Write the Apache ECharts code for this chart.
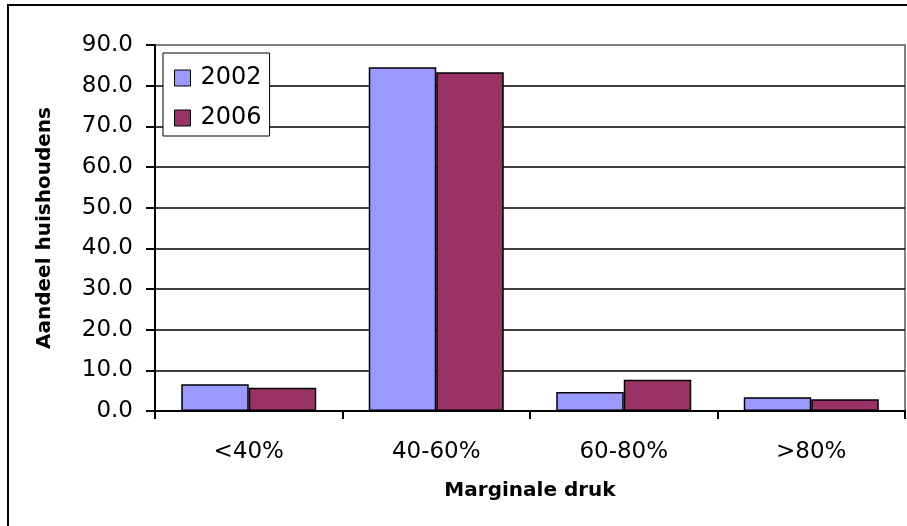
<!DOCTYPE html>
<html>
<head>
<meta charset="utf-8">
<script src="https://cdn.jsdelivr.net/npm/echarts@6/dist/echarts.min.js"></script>
<style>
  html, body { margin: 0; padding: 0; background: #fff; }
  #chart { width: 907px; height: 526px; }
</style>
</head>
<body>
<div id="chart"></div>
<script>
var categories = ['<40%', '40-60%', '60-80%', '>80%'];
var values2002 = [6.6, 84.5, 4.7, 3.4];
var values2006 = [5.7, 83.3, 7.7, 2.9];

var myChart = echarts.init(document.getElementById('chart'));
var font = 'DejaVu Sans, Verdana, sans-serif';
// gridline colours: the last one (90.0) sits on the grey plot border
var splitColors = ['#000', '#000', '#000', '#000', '#000', '#000', '#000', '#000', '#000', '#808080'];
var option = {
    animation: false,
    backgroundColor: '#fff',
    graphic: [{
        type: 'rect',
        shape: { x: 8, y: 5, width: 1000, height: 1000 },
        style: { fill: 'none', stroke: '#000', lineWidth: 2 },
        silent: true
    }],
    legend: {
        orient: 'vertical',
        left: 163,
        top: 53,
        padding: [13, 8, 6, 11],
        itemGap: 16,
        itemWidth: 16,
        itemHeight: 16,
        backgroundColor: '#fff',
        borderColor: '#000',
        borderWidth: 1,
        borderRadius: 0,
        textStyle: { fontFamily: font, fontSize: 24, color: '#000', padding: [0, 0, 0, 5] },
        data: [
            { name: '2002', icon: 'rect', itemStyle: { borderColor: '#000', borderWidth: 1 } },
            { name: '2006', icon: 'rect', itemStyle: { borderColor: '#000', borderWidth: 1 } }
        ]
    },
    grid: {
        left: 155,
        right: 2,
        top: 45,
        bottom: 115,
        show: true,
        borderColor: '#808080',
        borderWidth: 2,
        backgroundColor: '#fff'
    },
    xAxis: {
        type: 'category',
        data: categories,
        name: 'Marginale druk',
        nameLocation: 'middle',
        nameGap: 70,
        nameTextStyle: { fontFamily: font, fontSize: 20, fontWeight: 'bold', color: '#000' },
        axisLine: { lineStyle: { color: '#000', width: 2 } },
        axisTick: { show: true, length: 8, alignWithLabel: false, lineStyle: { color: '#000', width: 2 } },
        axisLabel: { fontFamily: font, fontSize: 23, color: '#000', margin: 30 }
    },
    yAxis: {
        type: 'value',
        min: 0,
        max: 90,
        interval: 10,
        name: 'Aandeel huishoudens',
        nameLocation: 'middle',
        nameGap: 100,
        nameTextStyle: { fontFamily: font, fontSize: 20, fontWeight: 'bold', color: '#000' },
        axisLine: { show: true, lineStyle: { color: '#000', width: 2 } },
        axisTick: { show: true, length: 9, lineStyle: { color: '#000', width: 2 } },
        axisLabel: {
            fontFamily: font, fontSize: 23, color: '#000', margin: 22,
            formatter: function (v) { return v.toFixed(1); }
        },
        splitLine: { show: true, lineStyle: { color: splitColors, width: 1.5 } }
    },
    series: [
        {
            name: '2002',
            type: 'bar',
            data: values2002,
            barGap: '0%',
            barCategoryGap: '28%',
            itemStyle: { color: '#9999FF', borderColor: '#000', borderWidth: 1.5 }
        },
        {
            name: '2006',
            type: 'bar',
            data: values2006,
            itemStyle: { color: '#993366', borderColor: '#000', borderWidth: 1.5 }
        }
    ]
};
myChart.setOption(option);
</script>
</body>
</html>
